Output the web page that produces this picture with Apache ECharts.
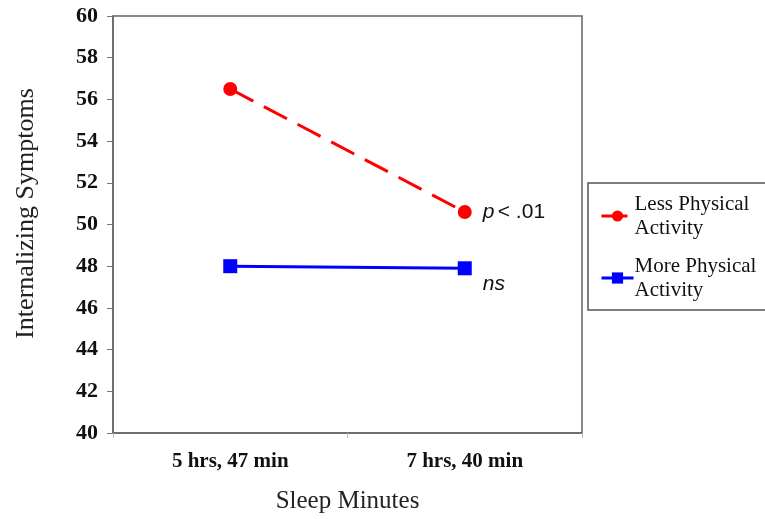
<!DOCTYPE html>
<html>
<head>
<meta charset="utf-8">
<script src="https://cdn.jsdelivr.net/npm/echarts@6/dist/echarts.min.js"></script>
<style>html,body{margin:0;padding:0;background:#fff;}#c{width:765px;height:519px;}</style>
</head>
<body>
<div id="c"></div>
<script>
const categories = ["5 hrs, 47 min", "7 hrs, 40 min"];
const lessActivity = [56.5, 50.6];
const moreActivity = [48.0, 47.9];
const yTicks = [40, 42, 44, 46, 48, 50, 52, 54, 56, 58, 60];
const seriesNames = ["Less Physical\nActivity", "More Physical\nActivity"];
const annotations = ["p < .01", "ns"];

const chart = echarts.init(document.getElementById('c'));
const serif = '"Liberation Serif", "Times New Roman", serif';
const sans = '"Liberation Sans", Arial, sans-serif';

chart.setOption({
  animation: false,
  backgroundColor: '#fff',
  grid: {
    left: 113, right: 183, top: 16, bottom: 86,
    containLabel: false,
    outerBoundsMode: 'none',
    show: true, borderColor: '#666', borderWidth: 1.5, backgroundColor: 'transparent'
  },
  legend: {
    orient: 'vertical',
    left: 588, top: 183,
    padding: [9, 30, 8, 12],
    itemGap: 14,
    itemWidth: 32, itemHeight: 14,
    borderColor: '#555', borderWidth: 1.5,
    lineStyle: { width: 3 },
    textStyle: { fontFamily: serif, fontSize: 21, color: '#111', lineHeight: 24, padding: [0,0,0,-4] },
    data: seriesNames
  },
  xAxis: {
    type: 'category',
    data: categories,
    boundaryGap: true,
    name: 'Sleep Minutes',
    nameLocation: 'middle',
    nameGap: 56,
    nameTextStyle: { fontFamily: serif, fontSize: 25, color: '#222' },
    axisLine: { show: true, lineStyle: { color: '#666', width: 1.5 } },
    axisTick: { show: true, length: 5, lineStyle: { color: '#bbb' } },
    axisLabel: { fontFamily: serif, fontSize: 21, fontWeight: 'bold', color: '#111', margin: 18 }
  },
  yAxis: {
    type: 'value',
    min: yTicks[0], max: yTicks[yTicks.length - 1], interval: 2,
    name: 'Internalizing Symptoms',
    nameLocation: 'middle',
    nameGap: 74,
    nameTextStyle: { fontFamily: serif, fontSize: 26, color: '#222', padding: [0, 0, 0, 22] },
    axisLine: { show: true, lineStyle: { color: '#666', width: 1.5 } },
    axisTick: { show: true, length: 6, lineStyle: { color: '#777' } },
    splitLine: { show: false },
    axisLabel: { fontFamily: serif, fontSize: 22, fontWeight: 'bold', color: '#111', margin: 15 }
  },
  series: [
    {
      name: seriesNames[0],
      type: 'line',
      data: lessActivity.map((v, i) => i === lessActivity.length - 1 ? {
        value: v,
        label: {
          show: true, position: 'right', distance: 11,
          formatter: '{i|p} {n|< .01}',
          rich: {
            i: { fontFamily: sans, fontStyle: 'italic', fontSize: 21, color: '#111' },
            n: { fontFamily: sans, fontSize: 21, color: '#111' }
          }
        }
      } : v),
      symbol: 'circle', symbolSize: 14,
      itemStyle: { color: '#ff0000' },
      lineStyle: { color: '#ff0000', width: 3, type: [26, 12] }
    },
    {
      name: seriesNames[1],
      type: 'line',
      data: moreActivity.map((v, i) => i === moreActivity.length - 1 ? {
        value: v,
        label: {
          show: true, position: 'right', distance: 11, offset: [0, 16],
          formatter: annotations[1],
          fontFamily: sans, fontStyle: 'italic', fontSize: 21, color: '#111'
        }
      } : v),
      symbol: 'rect', symbolSize: 14,
      itemStyle: { color: '#0000ff' },
      lineStyle: { color: '#0000ff', width: 3 }
    }
  ]
});
</script>
</body>
</html>
